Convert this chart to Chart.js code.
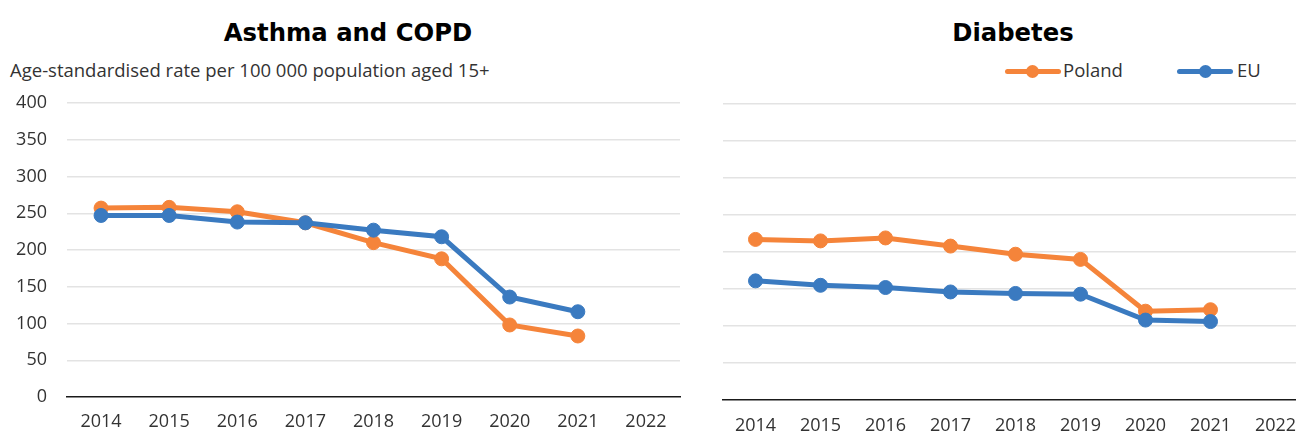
<!DOCTYPE html>
<html><head><meta charset="utf-8">
<script src="https://cdn.jsdelivr.net/npm/chart.js@4"></script>
<style>
html,body{margin:0;padding:0;width:1296px;height:435px;overflow:hidden;background:#fff;font-family:"Open Sans",sans-serif;color:#333}
.title{position:absolute;top:16px;font-family:"DejaVu Sans",sans-serif;font-weight:700;font-size:24.3px;line-height:34px;color:#000;white-space:nowrap;transform:translateX(-50%)}
.sub{position:absolute;left:10px;top:57.5px;font-size:18.5px;line-height:24px;color:#333;white-space:nowrap}
.leg{position:absolute;top:57.5px;height:24px;font-size:18.5px;line-height:24px;color:#333;white-space:nowrap}
.leg .ln{position:absolute;top:11px;width:56px;height:5px;border-radius:3px}
.leg .dot{position:absolute;top:7px;width:13px;height:13px;border-radius:50%}
.leg .tx{position:absolute;top:0}
#c1wrap{position:absolute;left:0;top:90px;width:690px;height:345px}
#c2wrap{position:absolute;left:690px;top:90px;width:640px;height:345px}
</style></head><body>
<div class="title" style="left:348px">Asthma and COPD</div>
<div class="title" style="left:1013px">Diabetes</div>
<div class="sub">Age-standardised rate per 100 000 population aged 15+</div>
<div class="leg" style="left:1005px"><span class="ln" style="left:0;background:#F5843A"></span><span class="dot" style="left:21px;background:#F5843A"></span><span class="tx" style="left:58px">Poland</span></div>
<div class="leg" style="left:1177px"><span class="ln" style="left:0;background:#3A7AC0"></span><span class="dot" style="left:22px;background:#3A7AC0"></span><span class="tx" style="left:60px">EU</span></div>
<div id="c1wrap"><canvas id="c1"></canvas></div>
<div id="c2wrap"><canvas id="c2"></canvas></div>
<script>
const years = ['2014','2015','2016','2017','2018','2019','2020','2021','2022'];
const asthmaPoland = [257, 258, 252, 237, 210, 188, 98, 83, null];
const asthmaEU = [247, 247, 238, 237, 227, 218, 136, 116, null];
const diabetesPoland = [217, 215, 219, 208, 197, 190, 120, 122, null];
const diabetesEU = [161, 155, 152, 146, 144, 143, 108, 106, null];
const yMin = 0, yMax = 400, yStep = 50;

const ORANGE = '#F5843A', BLUE = '#3A7AC0';
const FONT = {family: '"Open Sans", sans-serif', size: 18};

function ds(label, data, color, order) {
  return {label, data, borderColor: color, backgroundColor: color,
    borderWidth: 5, pointRadius: 7, pointHoverRadius: 7, pointBorderWidth: 1,
    pointBackgroundColor: color, pointBorderColor: color, tension: 0, order, clip: false};
}

function makeChart(id, pol, eu, cfg) {
  return new Chart(document.getElementById(id), {
    type: 'line',
    data: {labels: years, datasets: [ds('Poland', pol, ORANGE, 2), ds('EU', eu, BLUE, 1)]},
    options: {
      responsive: true, maintainAspectRatio: false, animation: false,
      layout: {padding: {top: cfg.top, right: cfg.right, left: 0, bottom: 0}},
      plugins: {legend: {display: false}, tooltip: {enabled: false}},
      scales: {
        x: {
          offset: true,
          grid: {display: false, drawTicks: false},
          border: {display: true, color: '#1a1a1a', width: 1.5},
          ticks: {color: '#333', font: FONT, padding: cfg.xpad, maxRotation: 0, autoSkip: false},
          afterFit: s => { s.height = cfg.xh; }
        },
        y: {
          min: yMin, max: yMax,
          grid: {drawTicks: false, lineWidth: 1.5,
            color: c => (c.tick && c.tick.value === 0) ? 'rgba(0,0,0,0)' : '#e3e3e3'},
          border: {display: false},
          ticks: {display: cfg.ylabels, stepSize: yStep, color: '#333', font: FONT, padding: 20},
          afterFit: s => { s.width = cfg.yw; s.paddingTop = 0; s.paddingBottom = 0; }
        }
      }
    }
  });
}

makeChart('c1', asthmaPoland, asthmaEU, {top: 13, right: 10, xh: 38, yw: 67, xpad: 14, ylabels: true});
makeChart('c2', diabetesPoland, diabetesEU, {top: 14, right: 22, xh: 35, yw: 33, xpad: 15, ylabels: false});
</script>
</body></html>
